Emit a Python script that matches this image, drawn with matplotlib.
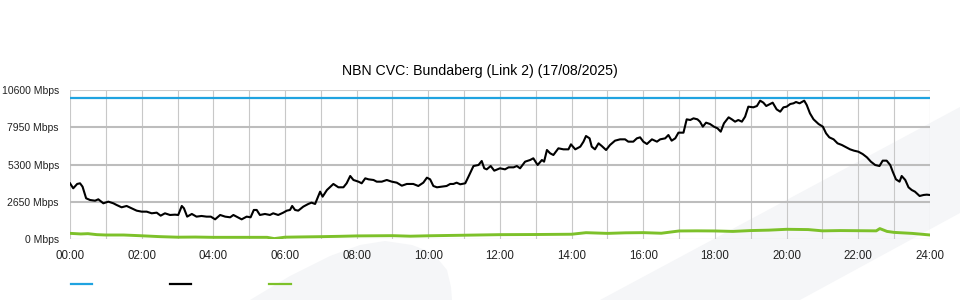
import numpy as np
import matplotlib
matplotlib.use('Agg')
import matplotlib.pyplot as plt
from matplotlib.patches import Polygon
from matplotlib.lines import Line2D

plt.rcParams['font.family'] = ['Liberation Sans', 'DejaVu Sans']

title = 'NBN CVC: Bundaberg (Link 2) (17/08/2025)'

# capacity (blue)
cap_hours = [0, 24]
cap_mbps = [10000, 10000]

# traffic in (black), hours since midnight
in_hours = [0.00, 0.09, 0.20, 0.28, 0.35, 0.45, 0.56, 0.70, 0.79, 0.93, 1.07, 1.21, 1.30,
            1.44, 1.58, 1.72, 1.86, 2.00, 2.14, 2.28, 2.42, 2.53, 2.65, 2.79, 2.93, 3.02,
            3.12, 3.18, 3.27, 3.40, 3.53, 3.67, 3.81, 3.93, 4.05, 4.19, 4.33, 4.47, 4.56,
            4.65, 4.79, 4.93, 5.04, 5.13, 5.21, 5.30, 5.44, 5.58, 5.67, 5.81, 5.95, 6.05,
            6.14, 6.20, 6.28, 6.37, 6.51, 6.65, 6.74, 6.84, 6.98, 7.05, 7.17, 7.35, 7.49,
            7.63, 7.72, 7.82, 7.91, 8.05, 8.14, 8.24, 8.33, 8.47, 8.56, 8.70, 8.84, 8.98,
            9.12, 9.26, 9.40, 9.58, 9.72, 9.86, 9.96, 10.05, 10.14, 10.24, 10.38, 10.51,
            10.61, 10.70, 10.79, 10.89, 11.03, 11.12, 11.26, 11.40, 11.49, 11.56, 11.63,
            11.74, 11.84, 12.00, 12.14, 12.24, 12.38, 12.47, 12.56, 12.70, 12.84, 12.93,
            13.05, 13.17, 13.23, 13.31, 13.40, 13.49, 13.63, 13.77, 13.91, 13.98, 14.10,
            14.24, 14.33, 14.40, 14.50, 14.56, 14.65, 14.75, 14.84, 14.96, 15.07, 15.21,
            15.35, 15.49, 15.58, 15.72, 15.82, 15.91, 16.00, 16.10, 16.24, 16.38, 16.47,
            16.61, 16.70, 16.79, 16.89, 16.98, 17.12, 17.21, 17.31, 17.40, 17.51, 17.58,
            17.66, 17.75, 17.86, 17.97, 18.07, 18.16, 18.25, 18.38, 18.47, 18.56, 18.65,
            18.75, 18.84, 18.93, 19.07, 19.17, 19.26, 19.35, 19.43, 19.54, 19.61, 19.72,
            19.82, 19.91, 20.00, 20.10, 20.19, 20.26, 20.36, 20.49, 20.56, 20.65, 20.75,
            20.89, 21.01, 21.10, 21.19, 21.31, 21.42, 21.54, 21.66, 21.77, 21.88, 22.00,
            22.12, 22.24, 22.35, 22.47, 22.59, 22.68, 22.79, 22.89, 22.96, 23.05, 23.15,
            23.21, 23.31, 23.40, 23.49, 23.58, 23.71, 23.82, 23.91, 24.00]
in_mbps = [3976, 3621, 3929, 3976, 3737, 2911, 2790, 2741, 2840, 2556, 2673, 2556, 2437,
           2272, 2367, 2201, 2034, 1963, 1963, 1846, 1891, 1678, 1846, 1727, 1750, 1727,
           2367, 2201, 1609, 1799, 1609, 1656, 1609, 1609, 1417, 1727, 1609, 1562, 1727,
           1609, 1417, 1609, 1562, 2083, 2083, 1727, 1799, 1727, 1846, 1727, 1891, 2034,
           2083, 2367, 2083, 2034, 2319, 2509, 2603, 2509, 3382, 3027, 3500, 3929, 3692,
           3692, 3976, 4495, 4211, 4092, 3976, 4329, 4258, 4211, 4092, 4092, 4211, 4092,
           4021, 3806, 3929, 3929, 3785, 4021, 4375, 4258, 3785, 3692, 3737, 3785,
           3929, 3929, 4021, 3905, 3976, 4447, 5204, 5275, 5560, 5040, 4967,
           5204, 4873, 5040, 4967, 5109, 5109, 5204, 5040, 5512, 5630, 5751,
           5275, 5630, 5512, 6340, 6104, 5985, 6460, 6387, 6387, 6743, 6387,
           6577, 6933, 7334, 7168, 6577, 6387, 6814, 6624, 6340, 6695, 7003,
           7097, 7097, 6933, 6933, 7168, 7239, 6933, 6766, 7097, 6933, 7097,
           7168, 7405, 7003, 7168, 7571, 7571, 8517, 8470, 8588, 8517, 8352,
           7997, 8281, 8186, 7997, 7879, 7642, 8234, 8659, 8517, 8352, 8470,
           8352, 8706, 9417, 9370, 9464, 9843, 9701, 9464, 9606, 9701, 9227,
           9062, 9369, 9417, 9606, 9654, 9748, 9654, 9843, 9535, 8943, 8517,
           8186, 7997, 7523, 7239, 7097, 6814, 6695, 6530, 6387, 6292, 6221,
           6055, 5819, 5512, 5275, 5204, 5584, 5584, 5275, 4802, 4257, 4092,
           4495, 4211, 3692, 3500, 3382, 3075, 3146, 3170, 3146]

# traffic out (green)
out_hours = [0, 0.3, 0.5, 0.75, 1, 1.5, 2, 2.5, 3, 3.5, 4, 5, 5.5, 5.7, 6, 6.5, 7, 7.5, 8, 9,
             9.5, 10, 10.5, 11, 12, 13, 14, 14.4, 15, 15.5, 16, 16.5, 17, 17.5, 18, 18.5,
             19, 19.5, 20, 20.6, 21, 21.5, 22, 22.5, 22.6, 22.8, 23, 23.5, 24]
out_mbps = [423, 380, 400, 330, 305, 305, 250, 190, 150, 160, 140, 140, 140, 50, 150, 170,
            187, 210, 240, 258, 220, 250, 270, 290, 330, 340, 360, 470, 420, 460, 473, 430,
            592, 600, 592, 560, 620, 650, 710, 690, 600, 620, 610, 600, 760, 560, 490, 420,
            307]

y_ticks = [0, 2650, 5300, 7950, 10600]
x_ticks = list(range(0, 25, 2))
x_labels = ['%02d:00' % h for h in x_ticks]

W, H = 960, 300
fig = plt.figure(figsize=(9.6, 3.0), dpi=100)


def fpx(pts):
    return [(x / W, 1 - y / H) for x, y in pts]


# faint watermark shapes in the background
wm = '#f5f6f8'
fig.patches.append(Polygon(fpx([(250, 300), (290, 276), (330, 256), (360, 245), (385, 241),
                                (412, 245), (433, 253), (447, 270), (451, 287), (452, 300)]),
                           closed=True, transform=fig.transFigure, facecolor=wm,
                           edgecolor='none', zorder=0))
fig.patches.append(Polygon(fpx([(600, 300), (960, 107), (960, 213), (800, 300)]),
                           closed=True, transform=fig.transFigure, facecolor=wm,
                           edgecolor='none', zorder=0))

ax = fig.add_axes([70 / W, 60.7 / H, 860 / W, 149.3 / H])
ax.set_zorder(2)
ax.set_facecolor('none')

ax.plot(cap_hours, cap_mbps, color='#1fa3e0', lw=1.6, zorder=3)
ax.plot(in_hours, in_mbps, color='black', lw=1.5, zorder=4)
ax.plot(out_hours, out_mbps, color='#7dc12a', lw=2.1, zorder=3)

ax.set_xlim(0, 24)
ax.set_ylim(0, 10600)
ax.set_xticks(x_ticks)
ax.set_xticklabels(x_labels)
ax.set_xticks(range(0, 25), minor=True)
ax.set_yticks(y_ticks)
ax.set_yticklabels(['%d Mbps' % v for v in y_ticks])
ax.tick_params(axis='both', which='both', length=0, colors='#222222')
ax.tick_params(axis='x', pad=8, labelsize=8.3)
ax.tick_params(axis='y', pad=8, labelsize=7.5)

ax.grid(axis='x', which='both', color='#c8c8c8', lw=0.8, zorder=1)
ax.grid(axis='y', which='major', color='#bdbdbd', lw=1.5, zorder=1)
ax.get_ygridlines()[-1].set_linewidth(0.8)
ax.get_ygridlines()[-1].set_color('#cccccc')
ax.get_ygridlines()[0].set_linewidth(0.8)
ax.get_ygridlines()[0].set_color('#c8c8c8')
for s in ax.spines.values():
    s.set_visible(False)

fig.text(0.5, 1 - 71 / H, title, fontsize=10.2, ha='center', va='center')

handles = [Line2D([], [], color='#1fa3e0', lw=1.6),
           Line2D([], [], color='black', lw=1.6),
           Line2D([], [], color='#7dc12a', lw=1.6)]
fig.legend(handles, ['', '', ''], loc='center left', bbox_to_anchor=(70.5 / W, 15 / H),
           ncol=3, frameon=False, fontsize=10, handlelength=1.55, handletextpad=0,
           columnspacing=5.6, borderpad=0, borderaxespad=0)

fig.savefig('out.png', dpi=100)
